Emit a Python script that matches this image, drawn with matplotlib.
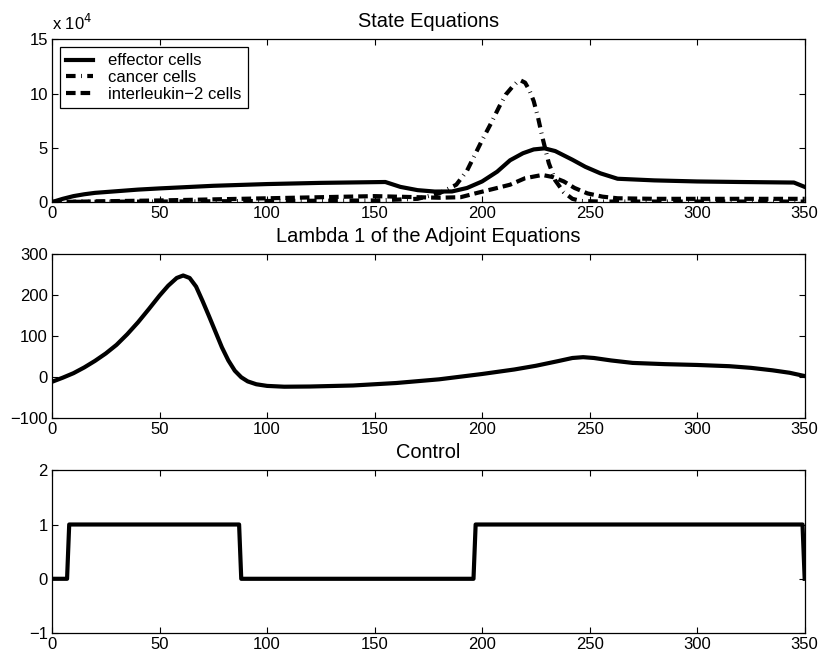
import numpy as np
import matplotlib
matplotlib.use("Agg")
import matplotlib.pyplot as plt
from matplotlib.ticker import FuncFormatter

plt.rcParams['font.family'] = ['Liberation Sans', 'DejaVu Sans']
plt.rcParams['font.size'] = 12

# state equations (cells)
t_eff = [0, 5, 10, 15, 20, 30, 40, 50, 75, 100, 125, 155, 162, 170, 178, 186, 193, 200,
         207, 213, 219, 224, 229, 234, 242, 248, 255, 263, 280, 300, 320, 345, 350]
effector = [0, 3000, 5500, 7200, 8500, 10000, 11500, 12600, 15000, 16600, 17700, 18500,
            14000, 11000, 9700, 9800, 13000, 19000, 28000, 38500, 45000, 48500, 49500,
            47000, 39000, 32500, 26500, 21500, 20000, 19000, 18500, 18000, 14000]

t_can = [0, 50, 100, 150, 170, 180, 188, 193, 200, 204, 208, 211, 214, 216, 218, 220,
         222, 224, 226, 228, 231, 234, 238, 242, 246, 255, 270, 300, 350]
cancer = [200, 500, 1000, 1500, 3000, 8000, 16000, 29000, 57000, 72000, 88000, 99000,
          106000, 110000, 112000, 110000, 103000, 93000, 78000, 60000, 36000, 20000,
          9000, 3000, 1000, 500, 500, 500, 500]

t_il2 = [0, 25, 50, 75, 100, 125, 150, 160, 170, 180, 190, 198, 206, 213, 220, 228, 233,
         238, 243, 249, 256, 263, 280, 350]
il2 = [0, 800, 1500, 2500, 3500, 4500, 5500, 5000, 4500, 4000, 4500, 8600, 12500, 16000,
       22000, 25000, 23000, 19000, 13000, 8000, 5000, 3500, 3000, 3000]

# adjoint lambda 1
t_lam = [0, 5, 10, 15, 20, 25, 30, 35, 40, 45, 50, 54, 58, 61, 64, 67, 70, 73, 76, 79,
         82, 85, 88, 91, 95, 100, 108, 120, 140, 160, 180, 200, 215, 225, 235, 242, 247,
         252, 260, 270, 285, 300, 315, 325, 335, 343, 350]
lam1 = [-12, -2, 9, 23, 39, 57, 78, 104, 133, 165, 198, 222, 241, 247, 241, 220, 185,
        148, 110, 72, 40, 15, -1, -11, -18, -22, -24, -23.5, -21, -15, -6, 7, 18, 27, 38,
        46, 48, 46, 40, 34, 31, 29, 26, 22, 16, 10, 2]

# control
t_u = [0, 7, 8, 87, 88, 196, 197, 349, 350]
u = [0, 0, 1, 1, 0, 0, 1, 1, 0]

fig = plt.figure(figsize=(8.19, 6.54), dpi=100)
ax1 = fig.add_axes([0.0635, 0.691, 0.919, 0.249])
ax2 = fig.add_axes([0.0635, 0.361, 0.919, 0.251])
ax3 = fig.add_axes([0.0635, 0.032, 0.919, 0.249])

lw = 3
ax1.plot(t_eff, effector, 'k-', lw=lw, label='effector cells')
ax1.plot(t_can, cancer, 'k', lw=lw, dashes=(2.3, 1.3, 0.2, 1.3), label='cancer cells')
ax1.plot(t_il2, il2, 'k', lw=lw, dashes=(2.3, 1.2), label='interleukin\u22122 cells')
ax1.set_ylim(0, 150000)
ax1.set_yticks([0, 50000, 100000, 150000])
ax1.yaxis.set_major_formatter(FuncFormatter(lambda v, p: '%g' % (v / 1e4)))
ax1.text(0, 1.04, r'x 10$^4$', transform=ax1.transAxes, ha='left', va='bottom')
ax1.set_title('State Equations', pad=8.7)
leg = ax1.legend(loc='upper left', fancybox=False, edgecolor='black', framealpha=1,
                 handlelength=1.6, handletextpad=0.9, borderaxespad=0.45,
                 labelspacing=0.1, borderpad=0.4)
leg.get_frame().set_linewidth(0.9)

ax2.plot(t_lam, lam1, 'k-', lw=lw)
ax2.set_ylim(-100, 300)
ax2.set_yticks([-100, 0, 100, 200, 300])
ax2.yaxis.set_major_formatter(FuncFormatter(lambda v, p: ('%g' % v).replace('-', '\u2212')))
ax2.set_title('Lambda 1 of the Adjoint Equations', pad=8.7)

ax3.plot(t_u, u, 'k-', lw=lw)
ax3.set_ylim(-1, 2)
ax3.set_yticks([-1, 0, 1, 2])
ax3.yaxis.set_major_formatter(FuncFormatter(lambda v, p: ('%g' % v).replace('-', '\u2212')))
ax3.set_title('Control', pad=8.7)

for ax in (ax1, ax2, ax3):
    ax.set_xlim(0, 350)
    ax.set_xticks(range(0, 351, 50))
    ax.tick_params(direction='in', top=True, right=True, length=4, width=0.8, pad=3)
    for s in ax.spines.values():
        s.set_linewidth(0.9)

fig.savefig('out.png', dpi=100)
